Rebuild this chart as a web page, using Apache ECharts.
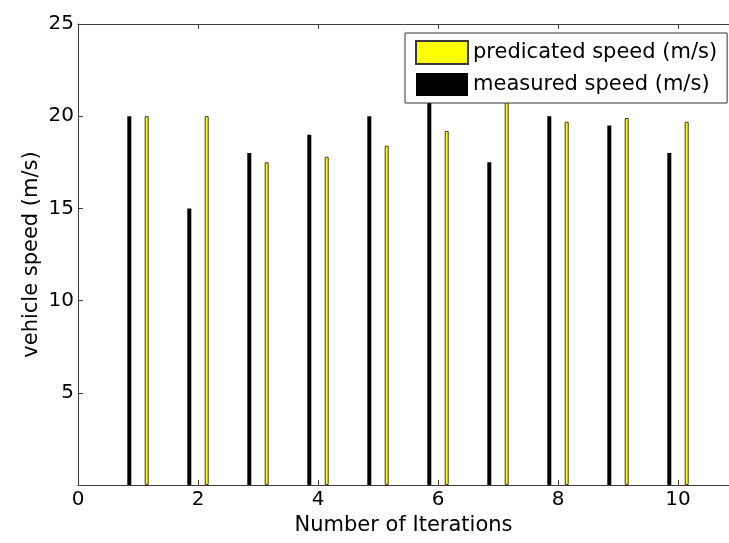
<!DOCTYPE html>
<html><head><meta charset="utf-8">
<script src="https://cdn.jsdelivr.net/npm/echarts@6/dist/echarts.min.js"></script>
<style>html,body{margin:0;padding:0;background:#fff}#c{width:729px;height:543px}</style>
</head><body><div id="c"></div>
<script>
const iterations = [1, 2, 3, 4, 5, 6, 7, 8, 9, 10];
const measured = [20, 15, 18, 19, 20, 21, 17.5, 20, 19.5, 18];
const predicated = [20, 20, 17.5, 17.8, 18.4, 19.2, 21, 19.7, 19.9, 19.7];
const xTickLabels = [0, 2, 4, 6, 8, 10];
const yTickLabels = [5, 10, 15, 20, 25];

const FONT = 'DejaVu Sans';
const axisColor = '#3c3c3c';
const chart = echarts.init(document.getElementById('c'), null, {renderer: 'canvas'});
chart.setOption({
  animation: false,
  backgroundColor: '#fff',
  grid: {left: 78, top: 24, right: 0, bottom: 58, containLabel: false},
  xAxis: [{
    type: 'value', position: 'bottom', min: 0, max: 10.85, interval: 2,
    name: 'Number of Iterations', nameLocation: 'middle', nameGap: 28,
    nameTextStyle: {fontFamily: FONT, fontSize: 21, color: '#000'},
    axisLine: {show: true, onZero: false, lineStyle: {color: axisColor, width: 1}},
    axisTick: {show: true, inside: true, length: 5, lineStyle: {color: axisColor}},
    axisLabel: {margin: 5, fontFamily: FONT, fontSize: 20, color: '#000', showMaxLabel: false,
      formatter: v => xTickLabels.includes(v) ? String(v) : ''},
    splitLine: {show: false}
  }, {
    type: 'value', position: 'top', min: 0, max: 10.85, interval: 2,
    axisLine: {show: true, onZero: false, lineStyle: {color: axisColor, width: 1}},
    axisTick: {show: true, inside: true, length: 5, lineStyle: {color: axisColor}},
    axisLabel: {show: false},
    splitLine: {show: false}
  }],
  yAxis: {
    type: 'value', min: 0, max: 25, interval: 5,
    name: 'vehicle speed (m/s)', nameLocation: 'middle', nameGap: 36, nameMoveOverlap: false,
    nameTextStyle: {fontFamily: FONT, fontSize: 21, color: '#000'},
    axisLine: {show: true, onZero: false, lineStyle: {color: axisColor, width: 1}},
    axisTick: {show: true, inside: true, length: 5, lineStyle: {color: axisColor}},
    axisLabel: {margin: 4, fontFamily: FONT, fontSize: 20, color: '#000',
      formatter: v => yTickLabels.includes(v) ? String(v) : ''},
    splitLine: {show: false}
  },
  legend: {
    orient: 'vertical', left: 405, top: 33,
    padding: [7, 10, 7, 10], itemWidth: 52, itemHeight: 23, itemGap: 8,
    backgroundColor: '#fff', borderColor: '#333', borderWidth: 1, borderRadius: 0,
    textStyle: {fontFamily: FONT, fontSize: 21, color: '#000'},
    data: [{name: 'predicated speed (m/s)', icon: 'rect'}, {name: 'measured speed (m/s)', icon: 'rect'}]
  },
  series: [{
    name: 'measured speed (m/s)', type: 'bar', barWidth: 4, barGap: '335%',
    itemStyle: {color: '#000'},
    data: iterations.map((x, i) => [x, measured[i]])
  }, {
    name: 'predicated speed (m/s)', type: 'bar', barWidth: 4, barGap: '335%',
    itemStyle: {color: '#ffff00', borderColor: '#3a3a3a', borderWidth: 1},
    data: iterations.map((x, i) => [x, predicated[i]])
  }]
});
</script></body></html>
